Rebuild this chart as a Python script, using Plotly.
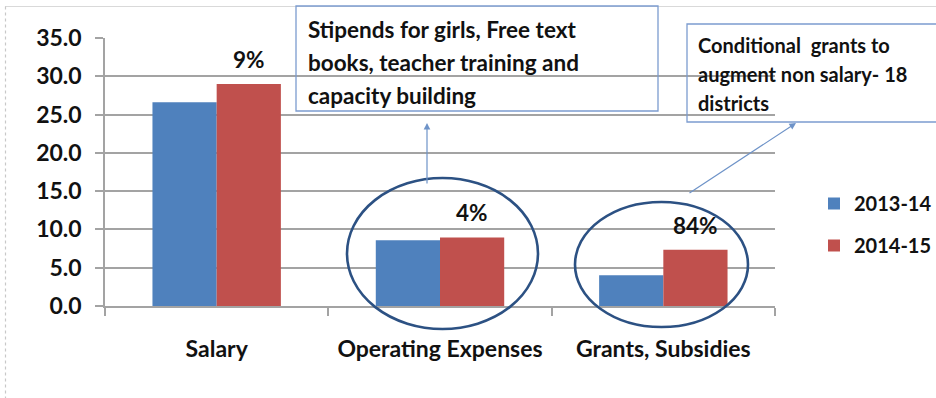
import plotly.graph_objects as go

# Spending heads and budget figures for the two years
categories = ["Salary", "Operating Expenses", "Grants, Subsidies"]
years = ["2013-14", "2014-15"]
values_2013_14 = [26.6, 8.6, 4.0]
values_2014_15 = [29.0, 8.95, 7.36]
y_ticks = [0, 5, 10, 15, 20, 25, 30, 35]

box1_lines = ["Stipends for girls, Free text", "books, teacher training and", "capacity building"]
box2_lines = ["Conditional  grants to", "augment non salary- 18", "districts"]

BLUE = "#4f81bd"
RED = "#c0504d"
GRID = "#a3a3a3"
FONT = "Lato"
TXT = "#111111"

W, H = 936, 398
L, R, T, B = 105, 161, 38, 92

fig = go.Figure()
for name, vals, col in [(years[0], values_2013_14, BLUE), (years[1], values_2014_15, RED)]:
    fig.add_trace(go.Bar(
        x=categories, y=vals, name=name, legendgroup=name,
        marker=dict(color=col, line=dict(width=0)),
    ))

# Growth labels above the 2014-15 bars
for cat, a, b in zip(categories, values_2013_14, values_2014_15):
    pct = round((b / a - 1) * 100)
    fig.add_annotation(
        x=cat, y=b, xref="x", yref="y", text=f"{pct}%", showarrow=False,
        xshift=32, yshift=9, yanchor="bottom",
        font=dict(family=FONT, size=22.5, color=TXT, weight="bold"),
    )

pw = W - L - R
ph = H - T - B


def px(xpix):
    return (xpix - L) / pw


def py(ypix):
    return (H - B - ypix) / ph


shapes = []
# Outer frame (top and dotted left edge)
shapes.append(dict(type="line", xref="paper", yref="paper", x0=px(5), x1=px(940), y0=py(6.5), y1=py(6.5),
                   line=dict(color="#d9d9d9", width=1.2)))
shapes.append(dict(type="line", xref="paper", yref="paper", x0=px(5.5), x1=px(5.5), y0=py(6.5), y1=py(400),
                   line=dict(color="#c8c8c8", width=1.2, dash="dot")))
# Callout boxes
shapes.append(dict(type="rect", xref="paper", yref="paper", x0=px(296), x1=px(658), y0=py(111), y1=py(6),
                   line=dict(color="#7c9ccf", width=1.3), fillcolor="rgba(0,0,0,0)"))
shapes.append(dict(type="rect", xref="paper", yref="paper", x0=px(687), x1=px(960), y0=py(122), y1=py(24),
                   line=dict(color="#7c9ccf", width=1.3), fillcolor="rgba(0,0,0,0)"))
# Ellipses around two groups
shapes.append(dict(type="circle", xref="paper", yref="paper", x0=px(347), x1=px(538), y0=py(329), y1=py(178),
                   line=dict(color="#2c5183", width=2.6)))
shapes.append(dict(type="circle", xref="paper", yref="paper", x0=px(575), x1=px(748), y0=py(327), y1=py(202),
                   line=dict(color="#2c5183", width=2.6)))
fig.update_layout(shapes=shapes)

box_font = dict(family=FONT, size=22.5, color=TXT, weight="bold")
for i, line in enumerate(box1_lines):
    fig.add_annotation(xref="paper", yref="paper", x=px(306), y=py(30 + i * 32.5), text=line,
                       showarrow=False, xanchor="left", yanchor="middle", font=box_font)
for i, line in enumerate(box2_lines):
    fig.add_annotation(xref="paper", yref="paper", x=px(696), y=py(45 + i * 29), text=line,
                       showarrow=False, xanchor="left", yanchor="middle", font=dict(box_font, size=20))

# Arrows from ellipses to callouts
arrow_style = dict(showarrow=True, arrowhead=2, arrowsize=1.1, arrowwidth=1.2, arrowcolor="#6e93c8", text="")
fig.add_annotation(xref="paper", yref="paper", x=px(427), y=py(123), ax=0, ay=62, **arrow_style)
fig.add_annotation(xref="paper", yref="paper", x=px(796), y=py(123), ax=-108, ay=71, **arrow_style)

fig.update_layout(
    width=W, height=H,
    margin=dict(l=L, r=R, t=T, b=B),
    paper_bgcolor="white", plot_bgcolor="white",
    barmode="group", bargap=0.425, bargroupgap=0,
    font=dict(family=FONT, size=21, color=TXT, weight="bold"),
    showlegend=True,
    legend=dict(
        xref="container", yref="container", x=814 / W, y=1 - 184 / H,
        xanchor="left", yanchor="top", traceorder="grouped", tracegroupgap=13,
        font=dict(family=FONT, size=20, color=TXT, weight="bold"),
        bgcolor="rgba(0,0,0,0)",
    ),
    xaxis=dict(
        type="category", showgrid=False, showline=True, linecolor=GRID, linewidth=1.5,
        ticks="outside", tickson="boundaries", ticklen=8, tickcolor=GRID, tickwidth=1.5,
        ticklabelstandoff=22, tickfont=dict(family=FONT, size=23, color=TXT, weight="bold"),
    ),
    yaxis=dict(
        range=[0, 35], tickvals=y_ticks, tickformat=".1f",
        showgrid=True, gridcolor=GRID, gridwidth=1.5,
        showline=True, linecolor=GRID, linewidth=1.5, zeroline=False,
        ticks="outside", ticklen=8, tickcolor=GRID, tickwidth=1.5,
        ticklabelstandoff=9, tickfont=dict(family=FONT, size=23, color=TXT, weight="bold"),
    ),
)

fig.write_html("out.html")
